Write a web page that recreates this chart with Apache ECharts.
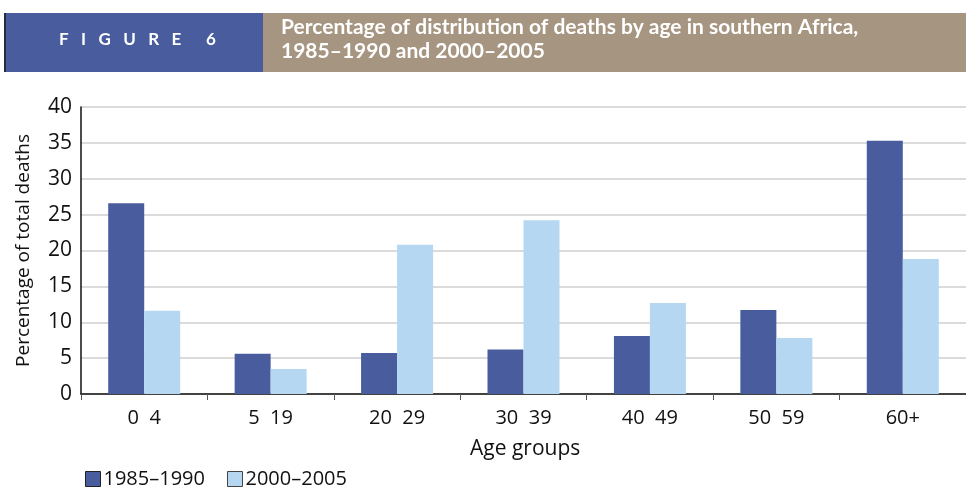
<!DOCTYPE html>
<html>
<head>
    <meta charset="utf-8">
    <title>Figure 6</title>
    <script src="https://cdn.jsdelivr.net/npm/echarts@6/dist/echarts.min.js"></script>
    <style>
        html, body { margin: 0; padding: 0; background: #fff; }
        #chart { width: 966px; height: 487px; }
    </style>
</head>
<body>
<div id="chart"></div>
<script type="text/javascript">
    // 数据
    var ageGroups = ['0  4', '5  19', '20  29', '30  39', '40  49', '50  59', '60+'];
    var deaths8590 = [26.6, 5.6, 5.7, 6.2, 8.1, 11.7, 35.3];
    var deaths0005 = [11.6, 3.5, 20.8, 24.2, 12.7, 7.8, 18.8];
    var yTicks = [0, 5, 10, 15, 20, 25, 30, 35, 40];

    var darkBlue = '#485c9e';
    var lightBlue = '#b5d7f2';
    var font = '"Open Sans", Lato, sans-serif';

    var myChart = echarts.init(document.getElementById('chart'));

    myChart.setOption({
        animation: false,
        textStyle: { fontFamily: font },
        graphic: [
            // 标题栏
            { type: 'rect', shape: { x: 5, y: 13, width: 258, height: 59 }, style: { fill: darkBlue } },
            { type: 'rect', shape: { x: 4, y: 13, width: 2, height: 59 }, style: { fill: '#2a2a3a' } },
            { type: 'rect', shape: { x: 263, y: 13, width: 703, height: 59 }, style: { fill: '#a69580' } },
            {
                type: 'text', left: 59, top: 31,
                style: { text: 'F   I   G   U   R   E      6', fill: '#fff', font: 'bold 17px Lato, sans-serif' }
            },
            {
                type: 'text', left: 281, top: 15,
                style: {
                    text: 'Percentage of distribution of deaths by age in southern Africa,\n1985–1990 and 2000–2005',
                    fill: '#fff', lineHeight: 24,
                    font: 'bold 21px Lato, sans-serif'
                }
            },
            {
                type: 'text', left: 470, top: 439,
                style: { text: 'Age groups', fill: '#111', font: '21px ' + font }
            }
        ],
        legend: {
            left: 80, top: 464,
            itemWidth: 15, itemHeight: 15, itemGap: 22,
            icon: 'rect',
            textStyle: { fontSize: 20, color: '#111', fontFamily: font, padding: [0, 0, 0, -2] },
            data: [
                { name: '1985–1990', itemStyle: { color: darkBlue, borderColor: '#222', borderWidth: 1 } },
                { name: '2000–2005', itemStyle: { color: lightBlue, borderColor: '#444', borderWidth: 1 } }
            ]
        },
        grid: { left: 81, right: 0, top: 107, bottom: 93 },
        xAxis: {
            type: 'category',
            data: ageGroups,
            axisLine: { lineStyle: { color: '#111', width: 1.5 } },
            axisTick: { show: true, length: 6, lineStyle: { color: '#555' } },
            axisLabel: { fontSize: 20, color: '#111', margin: 14 }
        },
        yAxis: {
            type: 'value',
            min: yTicks[0], max: yTicks[yTicks.length - 1], interval: 5,
            name: 'Percentage of total deaths',
            nameLocation: 'middle', nameGap: 48,
            nameTextStyle: { fontSize: 19, color: '#111' },
            axisLine: { show: true, lineStyle: { color: '#111', width: 1.5 } },
            axisTick: { show: false },
            axisLabel: { fontSize: 21, color: '#111', margin: 9 },
            splitLine: { lineStyle: { color: '#cfcfcf', width: 1.5 } }
        },
        series: [
            {
                name: '1985–1990', type: 'bar', data: deaths8590,
                barWidth: 36, barGap: '0%',
                itemStyle: { color: darkBlue }
            },
            {
                name: '2000–2005', type: 'bar', data: deaths0005,
                barWidth: 36, barGap: '0%',
                itemStyle: { color: lightBlue }
            }
        ]
    });
</script>
</body>
</html>
